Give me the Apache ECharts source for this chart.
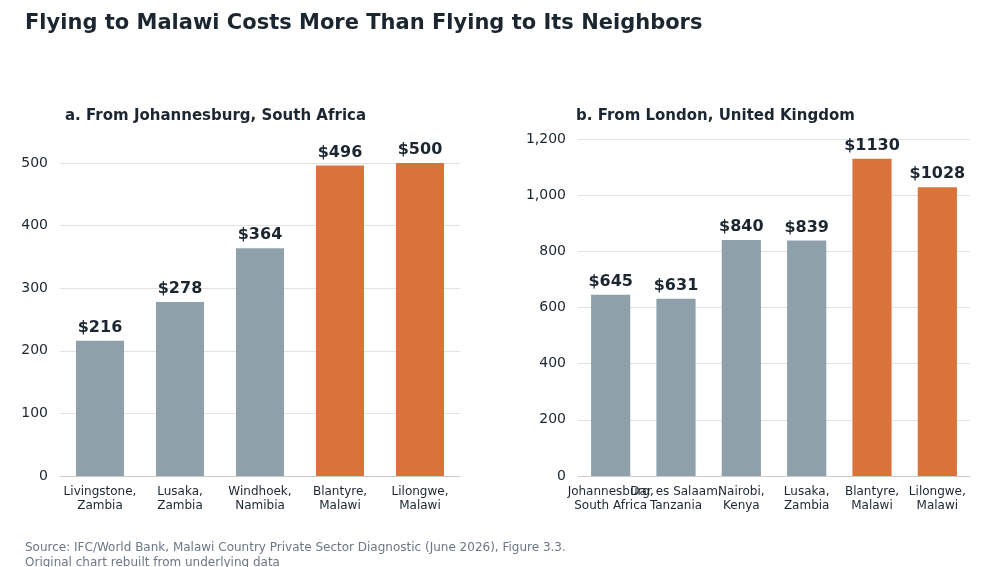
<!DOCTYPE html>
<html>
<head>
<meta charset="utf-8">
<script src="https://cdn.jsdelivr.net/npm/echarts@6/dist/echarts.min.js"></script>
<style>
  html, body { margin: 0; padding: 0; background: #fff; }
  #chart { width: 1000px; height: 567px; }
</style>
</head>
<body>
<div id="chart"></div>
<script>
const jnbCities = ["Livingstone,\nZambia", "Lusaka,\nZambia", "Windhoek,\nNamibia", "Blantyre,\nMalawi", "Lilongwe,\nMalawi"];
const jnbCosts = [216, 278, 364, 496, 500];
const jnbMalawi = [false, false, false, true, true];

const lonCities = ["Johannesburg,\nSouth Africa", "Dar es Salaam,\nTanzania", "Nairobi,\nKenya", "Lusaka,\nZambia", "Blantyre,\nMalawi", "Lilongwe,\nMalawi"];
const lonCosts = [645, 631, 840, 839, 1130, 1028];
const lonMalawi = [false, false, false, false, true, true];

const grey = "#8ea1aa";
const orange = "#d9723b";
const dark = "#1b2631";
const font = "DejaVu Sans";

function bars(values, malawi) {
    return values.map((v, i) => ({
        value: v,
        itemStyle: { color: malawi[i] ? orange : grey }
    }));
}

function xAxis(idx, cities) {
    return {
        type: "category",
        gridIndex: idx,
        data: cities,
        axisTick: { show: false },
        axisLine: { lineStyle: { color: "#cccccc" } },
        axisLabel: { color: dark, fontSize: 12, fontFamily: font, margin: 9, interval: 0, lineHeight: 14 }
    };
}

function yAxis(idx, max, interval) {
    return {
        type: "value",
        gridIndex: idx,
        min: 0,
        max: max,
        interval: interval,
        axisLine: { show: false },
        axisTick: { show: false },
        splitLine: { lineStyle: { color: "#e3e3e3" } },
        axisLabel: { color: dark, fontSize: 14, fontFamily: font, margin: 12 }
    };
}

function series(idx, values, malawi) {
    return {
        type: "bar",
        xAxisIndex: idx,
        yAxisIndex: idx,
        barWidth: "60%",
        data: bars(values, malawi),
        label: {
            show: true,
            position: "top",
            formatter: p => "$" + p.value,
            color: dark,
            fontSize: 16,
            fontWeight: "bold",
            fontFamily: font,
            distance: 5
        }
    };
}

let chart = echarts.init(document.getElementById("chart"));
chart.setOption({
    animation: false,
    textStyle: { fontFamily: font },
    title: [
        { text: "Flying to Malawi Costs More Than Flying to Its Neighbors", left: 20, top: 8,
          textStyle: { fontSize: 21, fontWeight: "bold", color: dark, fontFamily: font } },
        { text: "a. From Johannesburg, South Africa", left: 60, top: 104,
          textStyle: { fontSize: 15, fontWeight: "bold", color: dark, fontFamily: font } },
        { text: "b. From London, United Kingdom", left: 571, top: 104,
          textStyle: { fontSize: 15, fontWeight: "bold", color: dark, fontFamily: font } },
        { text: "Source: IFC/World Bank, Malawi Country Private Sector Diagnostic (June 2026), Figure 3.3.\nOriginal chart rebuilt from underlying data",
          left: 20, top: 535,
          textStyle: { fontSize: 12, fontWeight: "normal", color: "#6b7785", lineHeight: 15, fontFamily: font } }
    ],
    grid: [
        { left: 60, width: 400, top: 163, bottom: 91 },
        { left: 578, width: 392, top: 139, bottom: 91 }
    ],
    xAxis: [xAxis(0, jnbCities), xAxis(1, lonCities)],
    yAxis: [yAxis(0, 500, 100), yAxis(1, 1200, 200)],
    series: [series(0, jnbCosts, jnbMalawi), series(1, lonCosts, lonMalawi)]
});
</script>
</body>
</html>
